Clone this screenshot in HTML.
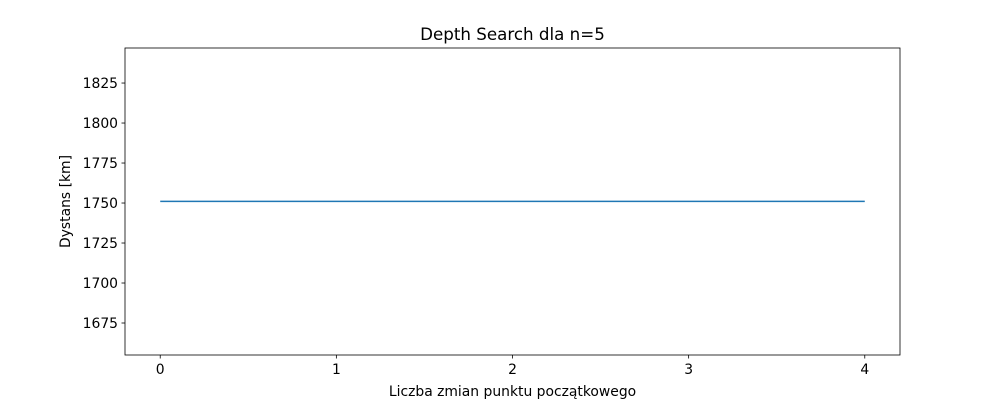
<!DOCTYPE html>
<html><head><meta charset="utf-8"><style>
body{margin:0;background:#fff;}
svg text{font-family:"DejaVu Sans","Liberation Sans",sans-serif;fill:#000;}
</style></head><body>
<svg width="1000" height="400">
<g id="g"></g>
</svg>
<script>
const xValues=[0,1,2,3,4];
const yValues=[1751,1751,1751,1751,1751];
const xTicks=[0,1,2,3,4];
const yTicks=[1675,1700,1725,1750,1775,1800,1825];
const L=125,R=900,T=48,B=355;
const x0=-0.2,x1=4.2,y0=1655,y1=1846.9;
const sx=v=>L+(v-x0)/(x1-x0)*(R-L);
const sy=v=>B-(v-y0)/(y1-y0)*(B-T);
const g=document.getElementById('g');
const ns='http://www.w3.org/2000/svg';
function mk(t,a,txt){const e=document.createElementNS(ns,t);for(const k in a)e.setAttribute(k,a[k]);if(txt!==undefined)e.textContent=txt;g.appendChild(e);return e;}
let e;
e=mk('text',{x:512.5,y:40,'text-anchor':'middle','font-size':16.7},'Depth Search dla n=5');


xTicks.forEach(t=>{
 e=mk('line',{x1:sx(t),x2:sx(t),y1:B,y2:B+3.5,stroke:'#000','stroke-width':0.8});
 
 
 e=mk('text',{x:sx(t),y:B+19,'text-anchor':'middle','font-size':13.9},t);
 
 
});
yTicks.forEach(t=>{
 e=mk('line',{x1:L-3.5,x2:L,y1:sy(t),y2:sy(t),stroke:'#000','stroke-width':0.8});
 
 
 e=mk('text',{x:L-7,y:sy(t)+5,'text-anchor':'end','font-size':13.9},t);
 
 
});
e=mk('polyline',{points:xValues.map((v,i)=>sx(v)+','+sy(yValues[i])).join(' '),fill:'none',stroke:'#1f77b4','stroke-width':1.5});


e=mk('rect',{x:L,y:T,width:R-L,height:B-T,fill:'none',stroke:'#000','stroke-width':0.8});


e=mk('text',{x:512.5,y:396,'text-anchor':'middle','font-size':13.9},'Liczba zmian punktu początkowego');


e=mk('text',{x:0,y:0,'text-anchor':'middle','font-size':13.9,transform:'translate(70,201.5) rotate(-90)'},'Dystans [km]');


</script>
</body></html>
